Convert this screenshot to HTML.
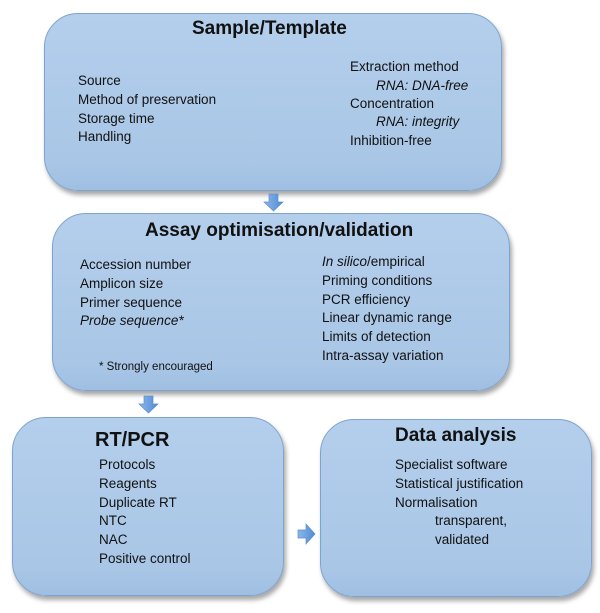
<!DOCTYPE html>
<html><head><style>
body{margin:0;width:600px;height:613px;background:#fff;position:relative;overflow:hidden;font-family:"Liberation Sans",sans-serif;color:#111}
.box{position:absolute;background:linear-gradient(#b4cfec,#a9c6e6 85%,#9fbfe2);border:1.5px solid #7fa3cf;border-radius:34px;box-shadow:2px 4px 5px rgba(0,0,0,0.35);box-sizing:border-box}
.t{position:absolute;font-size:13.5px;line-height:16px;white-space:nowrap}
.h{position:absolute;font-weight:bold;font-size:19px;line-height:22px;white-space:nowrap}
i{font-style:italic}
</style></head><body>
<div class="box" style="left:44px;top:13px;width:458px;height:178px"></div>
<div class="box" style="left:52px;top:213px;width:458px;height:178px"></div>
<div class="box" style="left:12px;top:417px;width:272px;height:179px"></div>
<div class="box" style="left:320px;top:419px;width:272px;height:178px"></div>

<svg style="position:absolute;left:0;top:0" width="600" height="613">
<defs><linearGradient id="g" x1="0" x2="1"><stop offset="0" stop-color="#8fb6e6"/><stop offset="1" stop-color="#4f8cd6"/></linearGradient></defs>
<polygon points="269,194 278,194 278,202 283,202 273.5,211 264,202 269,202" fill="url(#g)" stroke="#5a8fcf" stroke-width="0.7"/>
<polygon points="144,396 153,396 153,404 158,404 148.5,413 139,404 144,404" fill="url(#g)" stroke="#5a8fcf" stroke-width="0.7"/>
<polygon points="298,530 306,530 306,524 315,534 306,544 306,538 298,538" fill="url(#g)" stroke="#5a8fcf" stroke-width="0.7"/>
</svg>

<div class="h" style="left:192px;top:18px">Sample/Template</div>
<div class="t" style="left:78px;top:73px">Source</div>
<div class="t" style="left:78px;top:92px">Method of preservation</div>
<div class="t" style="left:78px;top:111px">Storage time</div>
<div class="t" style="left:78px;top:129px">Handling</div>
<div class="t" style="left:350px;top:59px">Extraction method</div>
<div class="t" style="left:376px;top:78px"><i>RNA: DNA-free</i></div>
<div class="t" style="left:350px;top:96px">Concentration</div>
<div class="t" style="left:376px;top:114px"><i>RNA: integrity</i></div>
<div class="t" style="left:350px;top:133px">Inhibition-free</div>

<div class="h" style="left:145px;top:220px">Assay optimisation/validation</div>
<div class="t" style="left:80px;top:257px">Accession number</div>
<div class="t" style="left:80px;top:276px">Amplicon size</div>
<div class="t" style="left:80px;top:295px">Primer sequence</div>
<div class="t" style="left:80px;top:313px"><i>Probe sequence*</i></div>
<div class="t" style="left:99px;top:359px;font-size:11.5px">* Strongly encouraged</div>
<div class="t" style="left:322px;top:254px"><i>In silico</i>/empirical</div>
<div class="t" style="left:322px;top:273px">Priming conditions</div>
<div class="t" style="left:322px;top:292px">PCR efficiency</div>
<div class="t" style="left:322px;top:310px">Linear dynamic range</div>
<div class="t" style="left:322px;top:329px">Limits of detection</div>
<div class="t" style="left:322px;top:348px">Intra-assay variation</div>

<div class="h" style="left:95px;top:429px;font-size:20px">RT/PCR</div>
<div class="t" style="left:99px;top:457px">Protocols</div>
<div class="t" style="left:99px;top:476px">Reagents</div>
<div class="t" style="left:99px;top:495px">Duplicate RT</div>
<div class="t" style="left:99px;top:513px">NTC</div>
<div class="t" style="left:99px;top:532px">NAC</div>
<div class="t" style="left:99px;top:551px">Positive control</div>

<div class="h" style="left:395px;top:425px">Data analysis</div>
<div class="t" style="left:395px;top:457px">Specialist software</div>
<div class="t" style="left:395px;top:476px">Statistical justification</div>
<div class="t" style="left:395px;top:495px">Normalisation</div>
<div class="t" style="left:435px;top:513px">transparent,</div>
<div class="t" style="left:435px;top:532px">validated</div>
</body></html>
